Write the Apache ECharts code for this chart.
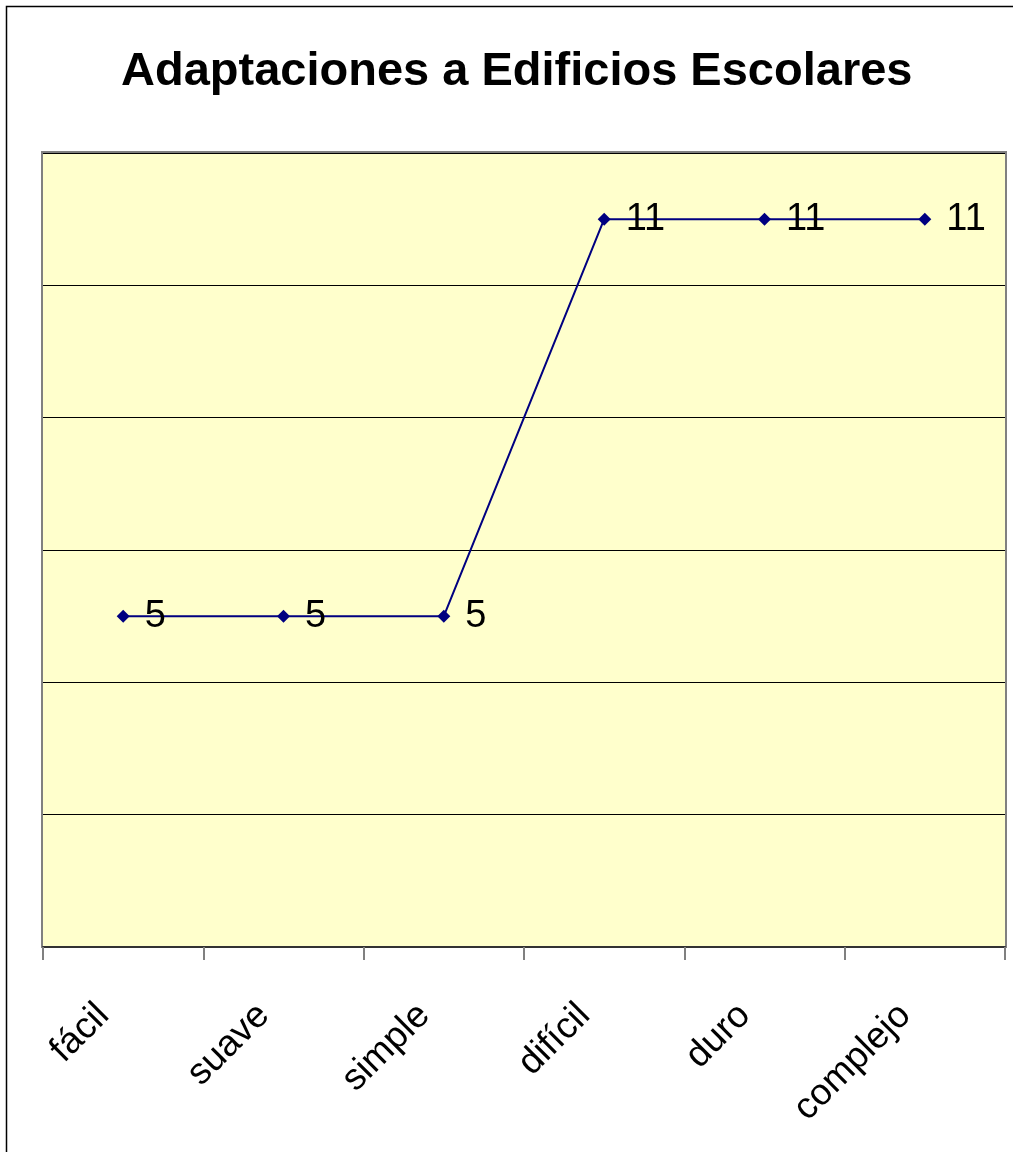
<!DOCTYPE html>
<html>
<head>
<meta charset="utf-8">
<script src="https://cdn.jsdelivr.net/npm/echarts@6/dist/echarts.min.js"></script>
<style>
  html, body { margin: 0; padding: 0; background: #fff; }
  #chart { width: 1013px; height: 1152px; }
</style>
</head>
<body>
<div id="chart"></div>
<script>
// Nivel de dificultad por categoría
const categories = ['fácil', 'suave', 'simple', 'difícil', 'duro', 'complejo'];
const values = [5, 5, 5, 11, 11, 11];
const yMin = 0;
const yMax = 12;
const yStep = 2;

const FONT = '"Liberation Sans", Arial, sans-serif';
const chart = echarts.init(document.getElementById('chart'), null, { renderer: 'canvas' });

const W = 1013, H = 1152;
const grid = { left: 43, top: 153, right: 8, bottom: 205 };

chart.setOption({
  backgroundColor: '#ffffff',
  animation: false,
  title: {
    text: 'Adaptaciones a Edificios Escolares',
    left: 116,
    top: 44,
    textStyle: { fontFamily: FONT, fontWeight: 'bold', fontSize: 47, color: '#000' }
  },
  grid: {
    left: grid.left, top: grid.top, right: grid.right, bottom: grid.bottom,
    show: true,
    backgroundColor: '#FFFFCC',
    borderWidth: 0
  },
  xAxis: {
    type: 'category',
    data: categories,
    boundaryGap: true,
    z: 55,
    axisLine: { show: true, lineStyle: { color: '#333333', width: 2 } },
    axisTick: { show: true, length: 13, lineStyle: { color: '#808080', width: 2 } },
    axisLabel: {
      rotate: 45,
      margin: 43,
      padding: [0, 28, 0, 0],
      fontFamily: FONT,
      fontSize: 37,
      color: '#000'
    },
    splitLine: { show: false }
  },
  yAxis: {
    type: 'value',
    min: yMin,
    max: yMax,
    interval: yStep,
    axisLine: { show: false },
    axisTick: { show: false },
    axisLabel: { show: false },
    splitLine: { show: true, lineStyle: { color: '#000000', width: 1 } }
  },
  graphic: [
    {
      // marco exterior del gráfico
      type: 'rect',
      position: [6.5, 6.5],
      shape: { x: 0, y: 0, width: W + 40, height: H + 40 },
      style: { fill: 'none', stroke: '#000', lineWidth: 1.5 },
      silent: true
    },
    {
      // borde del área de trazado
      type: 'rect',
      position: [grid.left - 1, grid.top - 1],
      z: 50,
      shape: { x: 0, y: 0, width: W - grid.left - grid.right + 2, height: H - grid.top - grid.bottom + 1 },
      style: { fill: 'none', stroke: '#808080', lineWidth: 2 },
      silent: true
    }
  ],
  series: [{
    type: 'line',
    data: values,
    z: 60,
    symbol: 'diamond',
    symbolSize: 13,
    showAllSymbol: true,
    lineStyle: { color: '#000080', width: 2 },
    itemStyle: { color: '#000080' },
    label: {
      show: true,
      position: 'right',
      distance: 15,
      fontFamily: FONT,
      fontSize: 38,
      color: '#000'
    }
  }]
});
</script>
</body>
</html>
